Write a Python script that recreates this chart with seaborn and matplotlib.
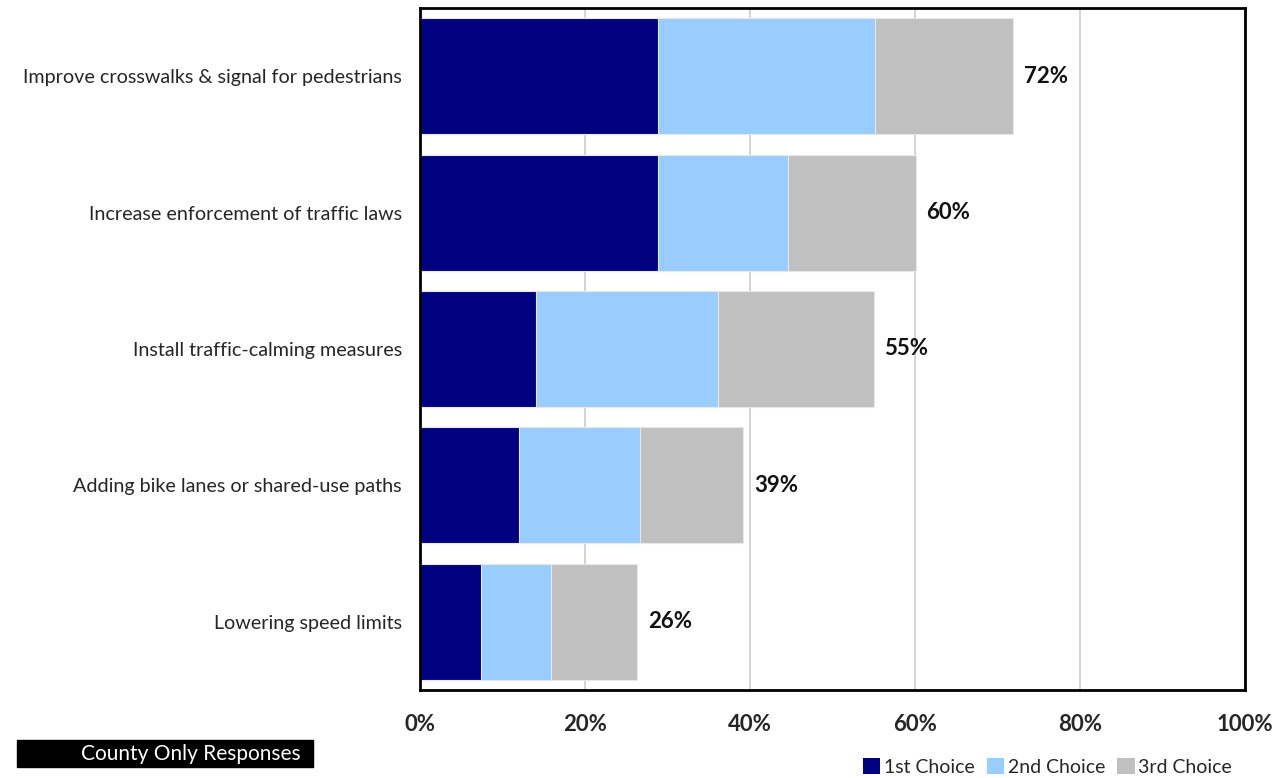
import matplotlib
matplotlib.use("Agg")
import matplotlib.pyplot as plt
import seaborn as sns
import pandas as pd
import numpy as np
from matplotlib.patches import Patch

categories = [
    "Improve crosswalks & signal for pedestrians",
    "Increase enforcement of traffic laws",
    "Install traffic-calming measures",
    "Adding bike lanes or shared-use paths",
    "Lowering speed limits",
]
first_choice = [28.9, 28.9, 14.0, 12.0, 7.4]
second_choice = [26.2, 15.7, 22.1, 14.7, 8.5]
third_choice = [16.8, 15.5, 18.9, 12.5, 10.4]
total_labels = ["72%", "60%", "55%", "39%", "26%"]
series_names = ["1st Choice", "2nd Choice", "3rd Choice"]
colors = ["#000080", "#99CCFF", "#C0C0C0"]
xticks = [0, 20, 40, 60, 80, 100]
xtick_labels = ["0%", "20%", "40%", "60%", "80%", "100%"]

sns.set_style("white")
plt.rcParams["font.family"] = ["Lato", "DejaVu Sans"]

df = pd.DataFrame({
    "category": categories,
    "c1": first_choice,
    "c2": np.array(first_choice) + np.array(second_choice),
    "c3": np.array(first_choice) + np.array(second_choice) + np.array(third_choice),
})

fig = plt.figure(figsize=(12.79, 7.78), dpi=100)
ax = fig.add_axes([420 / 1279, 1 - 690 / 778, 825 / 1279, 682 / 778])

for col, c in zip(["c3", "c2", "c1"], colors[::-1]):
    sns.barplot(data=df, y="category", x=col, orient="h", color=c, width=0.85,
                edgecolor="#E8E8E8", linewidth=0.8, ax=ax, saturation=1, zorder=3)

ax.set_xlim(0, 100)
ax.set_ylim(4.5, -0.5)
ax.set_xticks(xticks)
ax.set_xticklabels(xtick_labels, fontsize=16, fontweight="bold")
ax.tick_params(axis="x", length=0, pad=17)
ax.tick_params(axis="y", length=0, pad=13, labelsize=14.2)
ax.set_xlabel("")
ax.set_ylabel("")
ax.xaxis.grid(True, color="#D0D0D0", linewidth=1.3, zorder=0)
ax.set_axisbelow(True)
for s in ax.spines.values():
    s.set_visible(True)
    s.set_color("black")
    s.set_linewidth(2)
    s.set_zorder(6)

for i, (t, lab) in enumerate(zip(df["c3"], total_labels)):
    ax.text(t + 1.3, i, lab, va="center", ha="left", fontsize=16, fontweight="bold", color="#111111")

# County box
fig.patches.append(matplotlib.patches.Rectangle((17 / 1279, 1 - 767 / 778), 296 / 1279, 27 / 778,
                                                transform=fig.transFigure, color="black", zorder=1))
fig.text(301 / 1279, 1 - 754 / 778, "County Only Responses", color="white", fontsize=15,
         ha="right", va="center")

handles = [Patch(facecolor=c, edgecolor="none") for c in colors]
fig.legend(handles, series_names, loc="center right", bbox_to_anchor=(1240 / 1279, 1 - 767 / 778),
           ncol=3, frameon=False, fontsize=14, handlelength=0.9, handleheight=0.9,
           handletextpad=0.2, columnspacing=0.6, borderaxespad=0)

fig.savefig("out.png", dpi=100)
